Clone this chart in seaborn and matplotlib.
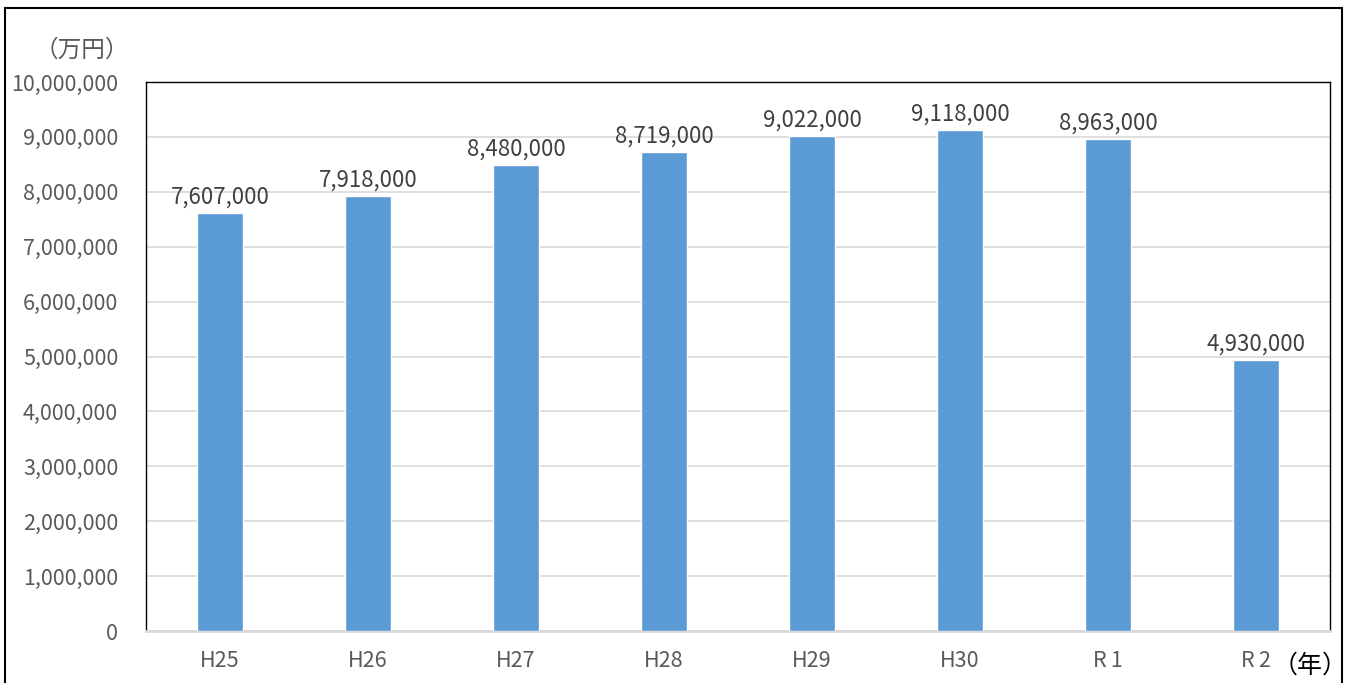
import matplotlib
matplotlib.use('Agg')
import matplotlib.pyplot as plt
import seaborn as sns
import pandas as pd
from matplotlib.patches import Rectangle
from matplotlib.ticker import FuncFormatter, MultipleLocator

years = ['H25', 'H26', 'H27', 'H28', 'H29', 'H30', 'R\u20091', 'R\u20092']
amounts = [7607000, 7918000, 8480000, 8719000, 9022000, 9118000, 8963000, 4930000]

df = pd.DataFrame({'year': years, 'amount': amounts})

sns.set_style('white')
plt.rcParams['font.family'] = ['Noto Sans CJK JP', 'DejaVu Sans']

fig = plt.figure(figsize=(13.5, 6.83), dpi=100)
ax = fig.add_axes([146 / 1350, 52 / 683, 1184 / 1350, 549 / 683])

sns.barplot(data=df, x='year', y='amount', color='#5B9BD5', saturation=1,
            width=0.31, ax=ax, zorder=3)

ax.set_ylim(0, 10000000)
ax.set_xlim(-0.5, len(years) - 0.5)
ax.yaxis.set_major_locator(MultipleLocator(1000000))
ax.yaxis.set_major_formatter(FuncFormatter(lambda v, p: f'{int(v):,}'))
ax.grid(axis='y', color='#D9D9D9', linewidth=1.2, zorder=0)
ax.set_xlabel('')
ax.set_ylabel('')

for s in ['left', 'top', 'right']:
    ax.spines[s].set_color('black')
    ax.spines[s].set_linewidth(1.0)
ax.spines['bottom'].set_color('#D9D9D9')
ax.spines['bottom'].set_linewidth(2)

ax.tick_params(axis='y', length=0, labelsize=15.5, colors='#595959', pad=20)
ax.tick_params(axis='x', length=0, labelsize=15.5, colors='#595959', pad=14)

for i, v in enumerate(amounts):
    ax.text(i, v + 80000, f'{v:,}', ha='center', va='bottom',
            fontsize=16, color='#404040')

fig.text(82 / 1350, 1 - 50 / 683, '（万円）', ha='center', va='center',
         fontsize=17, color='#595959')
fig.text(1310 / 1350, 1 - 666 / 683, '（年）', ha='center', va='center',
         fontsize=18, color='black')

fig.patches.append(Rectangle((5 / 1350, -0.05), 1337 / 1350, 1 - 8 / 683 + 0.05,
                             transform=fig.transFigure, fill=False,
                             edgecolor='black', linewidth=1.5))

fig.savefig('out.png', dpi=100)
